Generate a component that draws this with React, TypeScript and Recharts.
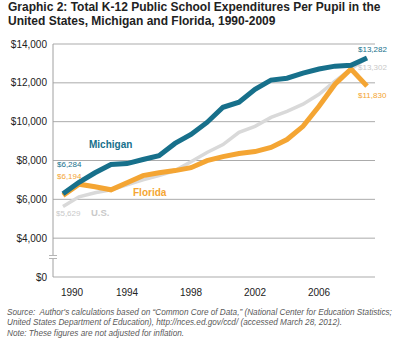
import { LineChart, Line, XAxis, YAxis, CartesianGrid, LabelList } from 'recharts'

const years = [
  1990, 1991, 1992, 1993, 1994, 1995, 1996, 1997, 1998, 1999,
  2000, 2001, 2002, 2003, 2004, 2005, 2006, 2007, 2008, 2009,
]
const michigan = [
  6284, 6880, 7370, 7790, 7840, 8050, 8250, 8880, 9340, 9960,
  10740, 11000, 11670, 12140, 12240, 12500, 12710, 12860, 12900, 13282,
]
const florida = [
  6194, 6780, 6650, 6490, 6850, 7220, 7370, 7480, 7630, 7990,
  8200, 8360, 8460, 8670, 9080, 9760, 10790, 11930, 12710, 11830,
]
const us = [
  5629, 6130, 6340, 6490, 6750, 7010, 7220, 7480, 7940, 8410,
  8820, 9450, 9760, 10220, 10530, 10900, 11410, 12090, 12710, 13302,
]
const yTicks = [0, 4000, 6000, 8000, 10000, 12000, 14000]
const xTicks = [1990, 1994, 1998, 2002, 2006]

const TEAL = '#17708b'
const ORANGE = '#f4a533'
const GREY = '#d9d9d9'
const FONT = '"Liberation Sans", Arial, sans-serif'

// the y axis is broken between $0 and $4,000, so values from $4,000 up are pulled down by 2,000
const BREAK_GAP = 2000
const squeeze = (v: number) => (v === 0 ? 0 : v - BREAK_GAP)
const unsqueeze = (v: number) => (v === 0 ? 0 : v + BREAK_GAP)

const data = years.map((year, i) => ({
  year,
  michigan: squeeze(michigan[i]),
  florida: squeeze(florida[i]),
  us: squeeze(us[i]),
}))

const money = (v: number) => '$' + v.toLocaleString('en-US')
const last = years.length - 1

type Note = { index: number; text: string; dx: number; dy: number; bold?: boolean; size?: number }

const noteLabel = (color: string, notes: Note[]) => (props: any) => {
  const note = notes.find((n) => n.index === props.index)
  if (!note) return null
  return (
    <text
      x={props.x + note.dx}
      y={props.y + note.dy}
      fill={color}
      fontSize={note.size || 8}
      fontWeight={note.bold ? 'bold' : 'normal'}
      fontFamily={FONT}
      dominantBaseline="central"
    >
      {note.text}
    </text>
  )
}

const YearTick = ({ x, y, payload }: any) => (
  <text
    x={x + (payload.value === 1990 ? 9 : 0)}
    y={y}
    dy="0.71em"
    textAnchor="middle"
    fill="#222"
    fontSize={10}
    fontFamily={FONT}
  >
    {payload.value}
  </text>
)

export default function App() {
  return (
    <div style={{ position: 'absolute', left: 0, top: 0, width: 395, height: 341, background: '#fff', fontFamily: FONT }}>
      <div style={{ position: 'absolute', left: 8, top: 0, fontSize: 12, fontWeight: 'bold', lineHeight: '14px', color: '#222', whiteSpace: 'nowrap' }}>
        Graphic 2: Total K-12 Public School Expenditures Per Pupil in the
        <br />
        United States, Michigan and Florida, 1990-2009
      </div>

      <div style={{ position: 'absolute', left: 0, top: 0 }}>
        <LineChart width={395} height={305} data={data} margin={{ top: 44, right: 20, left: 8, bottom: 3 }}>
          <CartesianGrid vertical={false} stroke="#ababab" />
          <XAxis
            dataKey="year"
            type="number"
            domain={[1990, 2009]}
            ticks={xTicks}
            padding={{ left: 10, right: 8 }}
            axisLine={false}
            tickLine={false}
            tickMargin={6}
            height={25}
            tick={<YearTick />}
          />
          <YAxis
            type="number"
            domain={[0, squeeze(14000)]}
            ticks={yTicks.map(squeeze)}
            tickFormatter={(v: number) => money(unsqueeze(v))}
            width={45}
            axisLine={{ stroke: '#a0a0a0' }}
            tickLine={false}
            tickSize={4}
            tickMargin={2}
            tick={{ fill: '#222', fontSize: 10, fontFamily: FONT }}
          />
          <Line dataKey="us" stroke={GREY} strokeWidth={3.5} dot={false} isAnimationActive={false}>
            <LabelList
              dataKey="us"
              content={noteLabel('#c9c9c9', [
                { index: 0, text: money(us[0]), dx: -7, dy: 7 },
                { index: 1, text: 'U.S.', dx: 12, dy: 16, bold: true, size: 9.5 },
                { index: last, text: money(us[last]), dx: -9, dy: 10 },
              ])}
            />
          </Line>
          <Line dataKey="florida" stroke={ORANGE} strokeWidth={5} dot={false} isAnimationActive={false}>
            <LabelList
              dataKey="florida"
              content={noteLabel(ORANGE, [
                { index: 0, text: money(florida[0]), dx: -6, dy: -19 },
                { index: 5, text: 'Florida', dx: -10, dy: 17, bold: true, size: 10 },
                { index: last, text: money(florida[last]), dx: -9, dy: 9 },
              ])}
            />
          </Line>
          <Line dataKey="michigan" stroke={TEAL} strokeWidth={5} dot={false} isAnimationActive={false}>
            <LabelList
              dataKey="michigan"
              content={noteLabel(TEAL, [
                { index: 0, text: money(michigan[0]), dx: -6, dy: -29 },
                { index: 1, text: 'Michigan', dx: 10, dy: -38, bold: true, size: 10 },
                { index: last, text: money(michigan[last]), dx: -9, dy: -8 },
              ])}
            />
          </Line>
        </LineChart>
      </div>

      {/* break mark on the y axis */}
      <div style={{ position: 'absolute', left: 49, top: 255, width: 8, height: 2, background: '#fff', borderTop: '1px solid #b5b5b5', borderBottom: '1px solid #b5b5b5' }} />

      <div style={{ position: 'absolute', left: 7, top: 308, fontSize: 8.2, fontStyle: 'italic', lineHeight: '10.3px', color: '#5a5a5a', whiteSpace: 'nowrap' }}>
        Source:&nbsp; Author's calculations based on “Common Core of Data,” (National Center for Education Statistics;
        <br />
        United States Department of Education), http://nces.ed.gov/ccd/ (accessed March 28, 2012).
        <br />
        Note: These figures are not adjusted for inflation.
      </div>
    </div>
  )
}
